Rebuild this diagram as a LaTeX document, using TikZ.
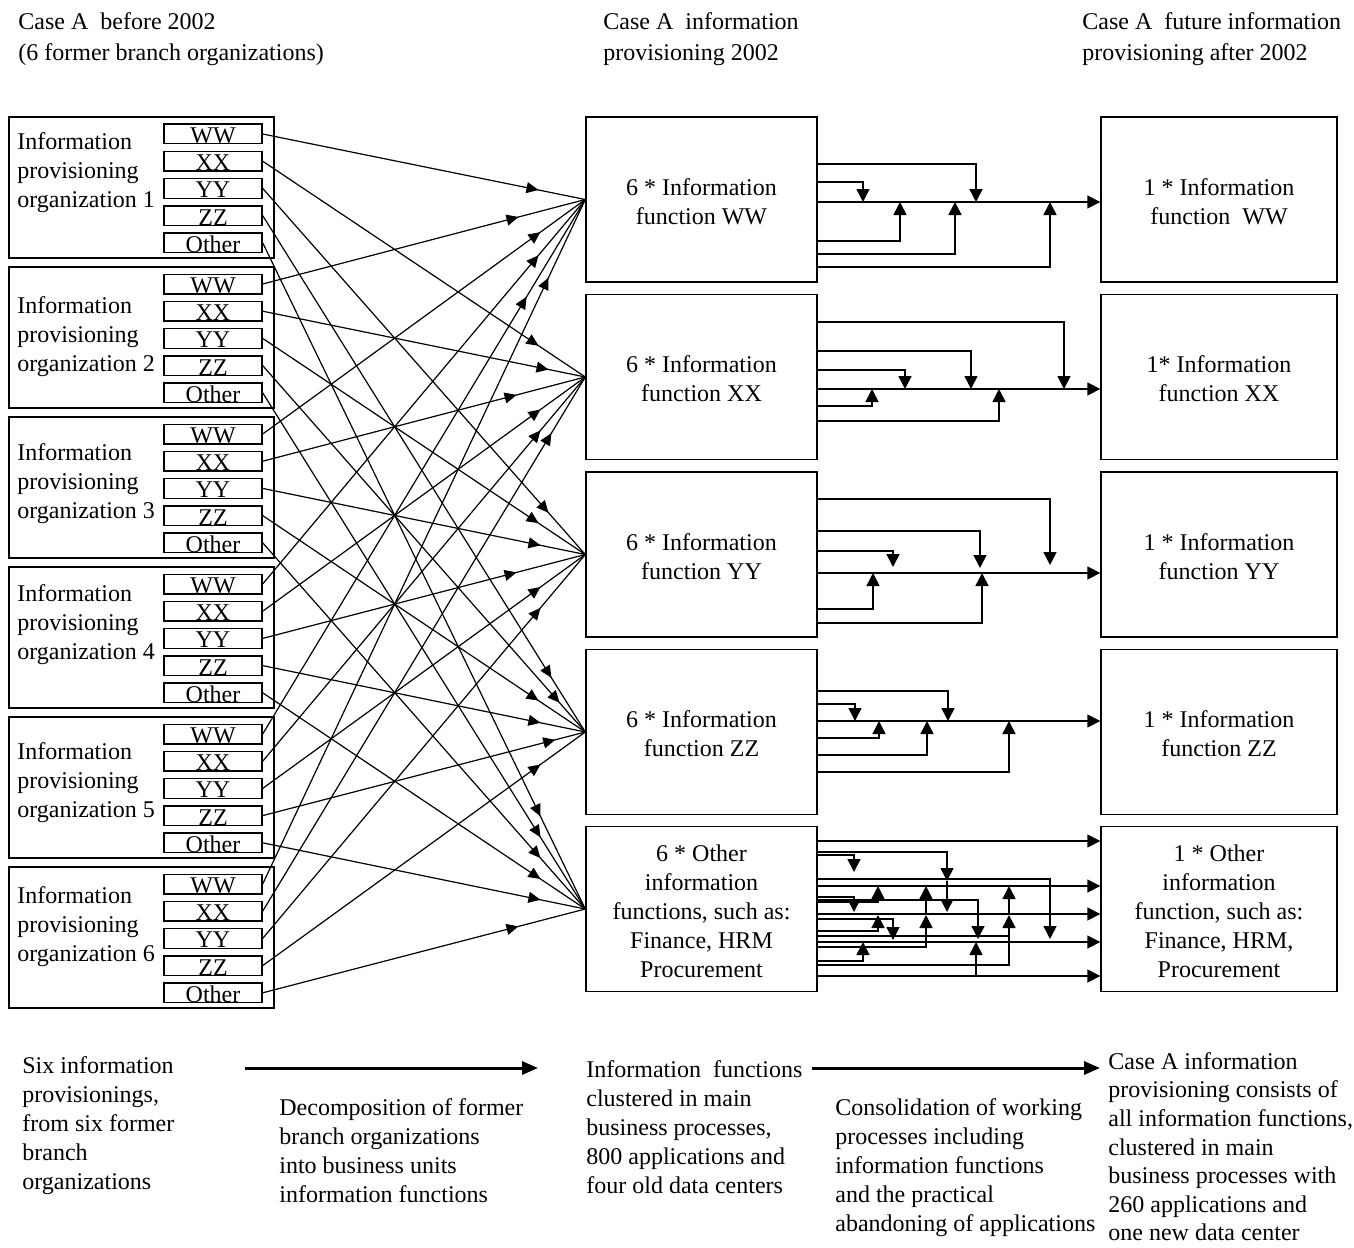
\documentclass[tikz,border=0pt]{standalone}
\usepackage{fontspec}
\setmainfont{Liberation Serif}
\usetikzlibrary{arrows.meta,decorations.markings}

\tikzset{
  lbl/.style={font=\fontsize{12}{14.5}\selectfont, inner sep=0pt},
  hdr/.style={font=\fontsize{12}{15.5}\selectfont, inner sep=0pt, anchor=north west, align=left},
  note/.style={font=\fontsize{12}{14.4}\selectfont, inner sep=0pt, anchor=north west, align=left},
  frame/.style={draw, line width=0.7pt, inner sep=0pt},
  orgbox/.style={frame, minimum width=132.5pt, minimum height=70.5pt},
  unitbox/.style={frame, minimum width=49pt, minimum height=9.8pt},
  funcbox/.style={frame, minimum width=115.5pt, minimum height=82.5pt},
  targetbox/.style={frame, minimum width=118pt, minimum height=82.5pt},
  feed/.style={line width=0.6pt, postaction={decorate},
    decoration={markings, mark=at position #1 with {\arrow{Triangle[length=6pt,width=5.5pt]}}}},
  flow/.style={line width=0.8pt},
  flowarr/.style={line width=0.8pt, -{Triangle[length=6.5pt,width=6.5pt]}},
  phase/.style={line width=1.5pt, -{Triangle[length=8pt,width=6.5pt]}},
}

\begin{document}
\begin{tikzpicture}[x=0.5pt,y=-0.5pt]
\useasboundingbox (0,0) rectangle (1354,1247);

% column headings
\node[hdr] (h1) at (18,12.5) {Case A~ before 2002\\(6 former branch organizations)};
\node[hdr] (h2) at (603,12.5) {Case A~ information\\provisioning 2002};
\node[hdr] (h3) at (1082,12.5) {Case A~ future information\\provisioning after 2002};

% former branch organizations with their units
\foreach \i/\ty in {1/173,2/336.5,3/484,4/625,5/783,6/926.5} {
  \pgfmathsetmacro\tp{117+150*(\i-1)}
  \node[orgbox] (org\i) at (141.5,\tp+70.5) {};
  \node[lbl, anchor=west, align=left] (ot\i) at (17,\ty) {Information\\provisioning\\organization \i};
  \foreach \u [count=\k from 0] in {WW,XX,YY,ZZ,Other} {
    \node[unitbox] (u\i-\k) at (213,\tp+17+27.2*\k) {};
    \node[lbl, anchor=base] (ut\i-\k) at (213,\tp+26.5+27.2*\k) {\u};
  }
}

% clustered information functions (2002)
\node[funcbox] (m1) at (701.5,199.5) {};
\node[funcbox] (m2) at (701.5,377) {};
\node[funcbox] (m3) at (701.5,554.5) {};
\node[funcbox] (m4) at (701.5,732) {};
\node[funcbox] (m5) at (701.5,909) {};
\node[lbl, align=center] (mt1) at (701.5,201.5) {6 * Information\\function WW};
\node[lbl, align=center] (mt2) at (701.5,379) {6 * Information\\function XX};
\node[lbl, align=center] (mt3) at (701.5,556.5) {6 * Information\\function YY};
\node[lbl, align=center] (mt4) at (701.5,734) {6 * Information\\function ZZ};
\node[lbl, align=center] (mt5) at (701.5,911) {6 * Other\\information\\functions, such as:\\Finance, HRM\\Procurement};

% consolidated information functions
\node[targetbox] (r1) at (1219,199.5) {};
\node[targetbox] (r2) at (1219,377) {};
\node[targetbox] (r3) at (1219,554.5) {};
\node[targetbox] (r4) at (1219,732) {};
\node[targetbox] (r5) at (1219,909) {};
\node[lbl, align=center] (rt1) at (1219,201.5) {1 * Information\\function~ WW};
\node[lbl, align=center] (rt2) at (1219,379) {1* Information\\function XX};
\node[lbl, align=center] (rt3) at (1219,556.5) {1 * Information\\function YY};
\node[lbl, align=center] (rt4) at (1219,734) {1 * Information\\function ZZ};
\node[lbl, align=center] (rt5) at (1219,911) {1 * Other\\information\\function, such as:\\Finance, HRM,\\Procurement};

% decomposition: every unit feeds its function cluster
\foreach \i/\f/\p in {
  1/1/0.855, 2/1/0.793, 3/1/0.861, 4/1/0.855, 5/1/0.818, 6/1/0.886,
  1/2/0.855, 2/2/0.886, 3/2/0.787, 4/2/0.861, 5/2/0.861, 6/2/0.895,
  1/3/0.886, 2/3/0.855, 3/3/0.861, 4/3/0.787, 5/3/0.861, 6/3/0.861,
  1/4/0.895, 2/4/0.920, 3/4/0.855, 4/4/0.861, 5/4/0.907, 6/4/0.861,
  1/5/0.861, 2/5/0.861, 3/5/0.861, 4/5/0.861, 5/5/0.861, 6/5/0.793} {
  \pgfmathtruncatemacro\k{\f-1}
  \draw[feed=\p] (u\i-\k.east) -- (m\f.west);
}

% consolidation WW
\draw[flowarr] (m1.east |- 0,202) -- (r1.west |- 0,202);
\draw[flowarr] (m1.east |- 0,164) -| (976,202);
\draw[flowarr] (m1.east |- 0,182) -| (863,202);
\draw[flowarr] (m1.east |- 0,241) -| (900,202);
\draw[flowarr] (m1.east |- 0,254) -| (955,202);
\draw[flowarr] (m1.east |- 0,267) -| (1050,202);

% consolidation XX
\draw[flowarr] (m2.east |- 0,389) -- (r2.west |- 0,389);
\draw[flowarr] (m2.east |- 0,322) -| (1064,389);
\draw[flowarr] (m2.east |- 0,351) -| (971,389);
\draw[flowarr] (m2.east |- 0,370) -| (905,389);
\draw[flowarr] (m2.east |- 0,406) -| (872,389);
\draw[flowarr] (m2.east |- 0,421) -| (999,389);

% consolidation YY
\draw[flowarr] (m3.east |- 0,573) -- (r3.west |- 0,573);
\draw[flowarr] (m3.east |- 0,499) -| (1050,565);
\draw[flowarr] (m3.east |- 0,531) -| (980,568);
\draw[flowarr] (m3.east |- 0,551) -| (893,567);
\draw[flowarr] (m3.east |- 0,609) -| (873,573);
\draw[flowarr] (m3.east |- 0,623) -| (982,573);

% consolidation ZZ
\draw[flowarr] (m4.east |- 0,721) -- (r4.west |- 0,721);
\draw[flowarr] (m4.east |- 0,691) -| (948,721);
\draw[flowarr] (m4.east |- 0,704) -| (855,721);
\draw[flowarr] (m4.east |- 0,738) -| (879,721);
\draw[flowarr] (m4.east |- 0,755) -| (927,721);
\draw[flowarr] (m4.east |- 0,772) -| (1009,721);

% consolidation of the other functions
\foreach \y in {841,886,914,942,976}
  \draw[flowarr] (m5.east |- 0,\y) -- (r5.west |- 0,\y);
\draw[flowarr] (m5.east |- 0,852) -| (947,881);
\draw[flowarr] (947,881) -- (947,912);
\draw[flowarr] (m5.east |- 0,855) -| (854,872);
\draw[flowarr] (m5.east |- 0,879) -| (1050,939);
\draw[flowarr] (m5.east |- 0,897) -| (854,912);
\draw[flowarr] (m5.east |- 0,900) -| (978,939);
\draw[flowarr] (m5.east |- 0,919) -| (893,940);
\draw[flowarr] (m5.east |- 0,902) -| (878,886);
\draw[flowarr] (m5.east |- 0,931) -| (878,915);
\draw[flowarr] (m5.east |- 0,947) -| (926,915);
\draw[flowarr] (926,915) -- (926,886);
\draw[flow] (m5.east |- 0,936) -- (1009,936);
\draw[flowarr] (m5.east |- 0,965) -| (1009,915);
\draw[flowarr] (1009,915) -- (1009,886);
\draw[flowarr] (m5.east |- 0,961) -| (863,942);
\draw[flowarr] (976,976) -- (976,942);

% phase descriptions
\node[note] (d1) at (22,1056.5) {Six information\\provisionings,\\from six former\\branch\\organizations};
\node[note] (d2) at (279,1098.5) {Decomposition of former\\branch organizations\\into business units\\information functions};
\node[note] (d3) at (586,1060.5) {Information~ functions\\clustered in main\\business processes,\\800 applications and\\four old data centers};
\node[note] (d4) at (835,1098.5) {Consolidation of working\\processes including\\information functions\\and the practical\\abandoning of applications};
\node[note, font=\fontsize{12}{14.3}\selectfont] (d5) at (1108,1052) {Case A information\\provisioning consists of\\all information functions,\\clustered in main\\business processes with\\260 applications and\\one new data center};

\coordinate (p1s) at (245,1068);
\coordinate (p1e) at (538,1068);
\coordinate (p2s) at (812,1068);
\coordinate (p2e) at (1100,1068);
\draw[phase] (p1s) -- (p1e);
\draw[phase] (p2s) -- (p2e);
\end{tikzpicture}
\end{document}
